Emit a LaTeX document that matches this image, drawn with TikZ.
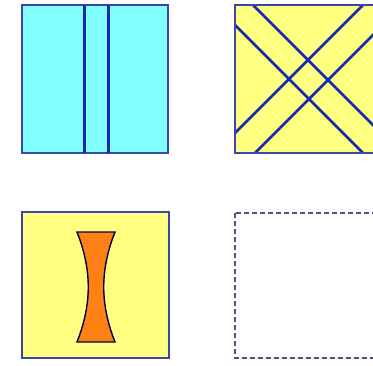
\documentclass[tikz,border=0pt]{standalone}
\usetikzlibrary{calc}
\definecolor{cyanfill}{RGB}{128,255,255}
\definecolor{yelfill}{RGB}{255,255,128}
\definecolor{frameblue}{RGB}{60,70,170}
\definecolor{lineblue}{RGB}{20,40,180}
\definecolor{lensorange}{RGB}{255,128,20}
\definecolor{dashgray}{RGB}{80,80,130}
\tikzset{
  frame/.style={draw=frameblue, line width=1.6pt},
  plate/.style={draw=lineblue, line width=3pt},
  lens/.style={draw=black!70!blue, line width=1.4pt, fill=lensorange},
  emptyframe/.style={draw=dashgray, line width=1.6pt, dash pattern=on 5pt off 3pt}
}
\begin{document}
\begin{tikzpicture}[x=1pt,y=-1pt]
\useasboundingbox (0,0) rectangle (373,365);
\clip (0,0) rectangle (373,365);
% square 1
\path[frame, fill=cyanfill] (22,5) rectangle (168,153);
\coordinate (a1) at (84,5); \coordinate (a2) at (84,153);
\coordinate (b1) at (108,5); \coordinate (b2) at (108,153);
\draw[plate] (a1) -- (a2);
\draw[plate] (b1) -- (b2);
% square 2
\path[frame, fill=yelfill] (235,5) rectangle (381,153);
\begin{scope}
\clip (235,5) rectangle (381,153);
\draw[plate, line width=2.6pt] (253,5) -- ++(160,160);
\draw[plate, line width=2.6pt] (235,25) -- ++(160,160);
\draw[plate, line width=2.6pt] (235,133) -- ++(160,-160);
\draw[plate, line width=2.6pt] (255,153) -- ++(160,-160);
\end{scope}
\path[frame] (235,5) rectangle (381,153);
% square 3
\path[frame, fill=yelfill] (22,212) rectangle (169,358);
\path[lens] (77,232) -- (115,232) .. controls (100,270) and (100,304) .. (115,342)
  -- (77,342) .. controls (92,304) and (92,270) .. (77,232) -- cycle;
% square 4
\path[emptyframe] (235,213) rectangle (381,358);
\end{tikzpicture}
\end{document}
